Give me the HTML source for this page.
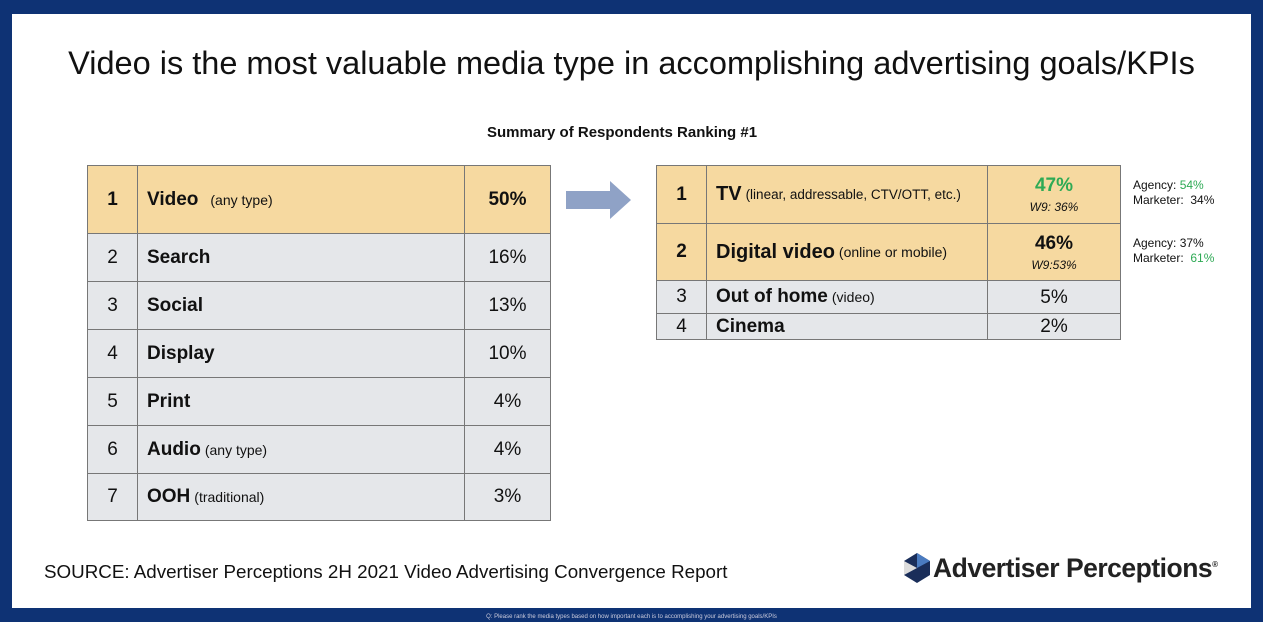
<!DOCTYPE html>
<html><head><meta charset="utf-8"><style>
*{margin:0;padding:0;box-sizing:border-box}
body{width:1263px;height:622px;background:#0e3274;position:relative;overflow:hidden;font-family:"Liberation Sans",Arial,sans-serif;color:#111}
#panel{position:absolute;left:12px;top:14px;width:1239px;height:594px;background:#fff}
.a{position:absolute}
.c{position:absolute;border:1px solid #777;display:flex;align-items:center}
.tan{background:#f6d9a0}.gry{background:#e5e7ea}
.n{justify-content:center;font-size:19px}
.v{justify-content:center;font-size:19px}
.l{padding-left:9px;font-size:19px;font-weight:bold}
.l small{font-weight:normal;font-size:14px;margin-left:4px}
</style></head><body>
<div id="panel"></div>
<div class="a" style="left:0;width:1263px;top:45px;text-align:center;font-size:32.5px">Video is the most valuable media type in accomplishing advertising goals/KPIs</div>
<div class="a" style="left:487px;top:124px;font-size:15px;font-weight:bold">Summary of Respondents Ranking #1</div>
<div id="lt"></div>
<div id="rt"></div>
<svg class="a" style="left:566px;top:181px" width="66" height="38"><polygon points="0,10 44,10 44,0 65,19 44,38 44,28 0,28" fill="#8fa2c6"/></svg>
<div class="a" style="left:1133px;top:178px;font-size:12px;line-height:15px">Agency: <span style="color:#2eaa55">54%</span><br>Marketer:&nbsp; 34%</div>
<div class="a" style="left:1133px;top:236px;font-size:12px;line-height:15px">Agency: 37%<br>Marketer:&nbsp; <span style="color:#2eaa55">61%</span></div>
<div class="a" style="left:44px;top:561px;font-size:18.8px">SOURCE: Advertiser Perceptions 2H 2021 Video Advertising Convergence Report</div>
<svg class="a" style="left:903px;top:553px" width="28" height="30"><polygon points="14,0 27,8 27,22 14,30 1,22 1,8" fill="#1a2e5a"/><polygon points="14,0 27,8 14,15" fill="#4a7bc0"/><polygon points="1,8 14,15 1,22" fill="#ddd"/></svg>
<div class="a" style="left:933px;top:553px;font-size:26.5px;font-weight:bold;color:#222;letter-spacing:-0.5px">Advertiser Perceptions<sup style="font-size:8px">®</sup></div>
<div class="a" style="left:0;width:1263px;top:614px;text-align:center;font-size:6px;color:#ccd">Q: Please rank the media types based on how important each is to accomplishing your advertising goals/KPIs</div>
<script>
const leftRanks=["1","2","3","4","5","6","7"];
const leftNames=["Video","Search","Social","Display","Print","Audio","OOH"];
const leftNotes=["(any type)","","","","","(any type)","(traditional)"];
const leftValues=["50%","16%","13%","10%","4%","4%","3%"];
const rightNames=["TV","Digital video","Out of home","Cinema"];
const rightNotes=["(linear, addressable, CTV/OTT, etc.)","(online or mobile)","(video)",""];
const rightValues=["47%","46%","5%","2%"];
const rightW9=["W9: 36%","W9:53%","",""];
function cell(p,x,y,w,h,cls,html,name){const d=document.createElement('div');


d.className='c '+cls;d.style.cssText=`left:${x}px;top:${y}px;width:${w+1}px;height:${h+1}px`;d.innerHTML=html;p.appendChild(d);}
const lt=document.getElementById('lt');
const ly=[165,233,281,329,377,425,473,520];
leftNames.forEach((n,i)=>{const y=ly[i],h=ly[i+1]-y,t=i==0?'tan':'gry',b=i==0?'font-weight:bold;':'';
cell(lt,87,y,50,h,'n '+t,`<span style="${b}">${leftRanks[i]}</span>`,'rank-cell');
cell(lt,137,y,327,h,'l '+t,`${n}<small style="${i==0?'margin-left:12px':''}">${leftNotes[i]}</small>`,'media-name-cell');
cell(lt,464,y,86,h,'v '+t,`<span style="${b}">${leftValues[i]}</span>`,'value-cell');});
const rt=document.getElementById('rt');
const ry=[165,223,280,313,339];
rightNames.forEach((n,i)=>{const y=ry[i],h=ry[i+1]-y,t=i<2?'tan':'gry',b=i<2?'font-weight:bold;':'';
cell(rt,656,y,50,h,'n '+t,`<span style="${b}">${i+1}</span>`,'rank-cell');
cell(rt,706,y,281,h,'l '+t,`<span style="font-size:${i<2?20:19}px">${n}</span><small style="font-size:${i==0?13.5:14}px">${rightNotes[i]}</small>`,'video-name-cell');
let v=`<div style="text-align:center;line-height:1"><div style="${b}${i==0?'color:#2eaa55;':''}font-size:19px">${rightValues[i]}</div>`+(rightW9[i]?`<div style="font-size:12px;font-style:italic;margin-top:6px">${rightW9[i]}</div>`:'')+`</div>`;
cell(rt,987,y,133,h,'v '+t,v,'value-cell');});
</script>
</body></html>
